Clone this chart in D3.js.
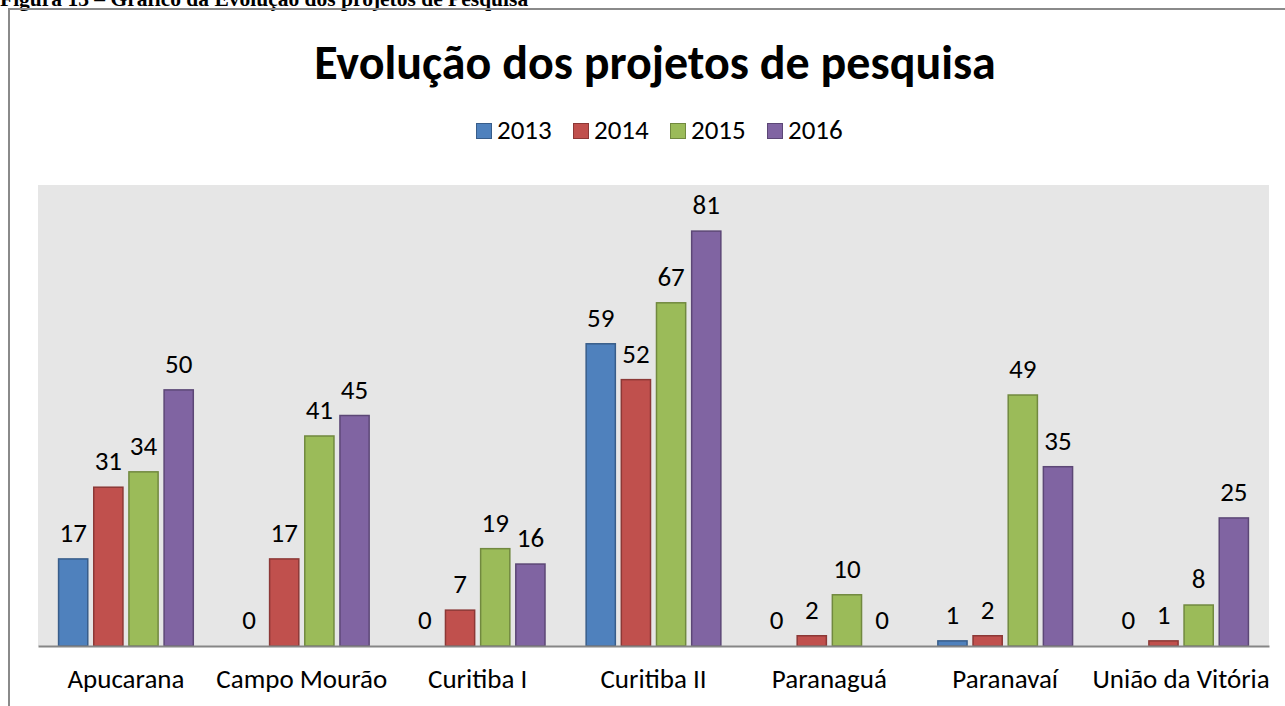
<!DOCTYPE html>
<html>
<head>
<meta charset="utf-8">
<script src="https://cdn.jsdelivr.net/npm/d3@7"></script>
<style>
  body { margin: 0; background: #fff; }
  svg { display: block; }
  text { font-family: Calibri, Carlito, "Open Sans", sans-serif; fill: #000; }
</style>
</head>
<body>
<div id="chart"></div>
<script>
// dados
const campi = ["Apucarana", "Campo Mourão", "Curitiba I", "Curitiba II", "Paranaguá", "Paranavaí", "União da Vitória"];
const anos = ["2013", "2014", "2015", "2016"];
const v2013 = [17, 0, 0, 59, 0, 1, 0];
const v2014 = [31, 17, 7, 52, 2, 2, 1];
const v2015 = [34, 41, 19, 67, 10, 49, 8];
const v2016 = [50, 45, 16, 81, 0, 35, 25];
const fill = ["#4f81bd", "#c0504d", "#9bbb59", "#8064a2"];
const stroke = ["#385d8a", "#8c3836", "#71893f", "#5c4776"];

const series = [v2013, v2014, v2015, v2016];

const width = 1285, height = 706;
const plot = { left: 38, right: 1269, top: 185, bottom: 646 };

const svg = d3.select("#chart").append("svg")
  .attr("width", width)
  .attr("height", height);

// legenda da figura (cortada no topo)
svg.append("text")
  .attr("x", 0).attr("y", 6)
  .style("font-family", "'Liberation Serif', 'Times New Roman', serif")
  .style("font-weight", "bold")
  .style("font-size", "21.5px")
  .text("Figura 13 – Gráfico da Evolução dos projetos de Pesquisa");

// moldura do gráfico
svg.append("path")
  .attr("d", `M9,${height} V9 H${width}`)
  .attr("fill", "none")
  .attr("stroke", "#8a8a8a")
  .attr("stroke-width", 2);

// titulo
svg.append("text")
  .attr("x", 655).attr("y", 79)
  .attr("text-anchor", "middle")
  .style("font-weight", "bold")
  .style("font-size", "48px")
  .text("Evolução dos projetos de pesquisa");

// legenda
const legend = svg.append("g").attr("transform", "translate(476,123)");
const item = legend.selectAll("g")
  .data(anos)
  .join("g")
  .attr("transform", (d, i) => `translate(${i * 97},0)`);
item.append("rect")
  .attr("x", 0.5).attr("y", 0.5)
  .attr("width", 15).attr("height", 15)
  .attr("fill", (d, i) => fill[i])
  .attr("stroke", (d, i) => stroke[i]);
item.append("text")
  .attr("x", 21).attr("y", 16)
  .style("font-size", "27px")
  .text((d) => d);

// area de plotagem
svg.append("rect")
  .attr("x", plot.left).attr("y", plot.top)
  .attr("width", plot.right - plot.left)
  .attr("height", plot.bottom - plot.top)
  .attr("fill", "#e6e6e6");

const x0 = d3.scaleBand()
  .domain(campi)
  .range([plot.left, plot.right])
  .paddingInner(0.2)
  .paddingOuter(0.1);
const x1 = d3.scaleBand()
  .domain(anos)
  .range([0, x0.bandwidth()])
  .paddingInner(0.17)
  .paddingOuter(0.085);
const y = d3.scaleLinear()
  .domain([0, 90])
  .range([plot.bottom, plot.top]);

const rows = campi.map((c, i) => ({ campus: c, values: anos.map((a, j) => ({ ano: a, k: j, v: series[j][i] })) }));

const groups = svg.append("g").selectAll("g")
  .data(rows)
  .join("g")
  .attr("transform", (d) => `translate(${x0(d.campus)},0)`);

groups.selectAll("rect")
  .data((d) => d.values.filter((v) => v.v > 0))
  .join("rect")
  .attr("x", (d) => x1(d.ano))
  .attr("y", (d) => y(d.v))
  .attr("width", x1.bandwidth())
  .attr("height", (d) => y(0) - y(d.v))
  .attr("fill", (d) => fill[d.k])
  .attr("stroke", (d) => stroke[d.k])
  .attr("stroke-width", 1.5);

groups.selectAll("text")
  .data((d) => d.values)
  .join("text")
  .attr("x", (d) => x1(d.ano) + x1.bandwidth() / 2)
  .attr("y", (d) => y(d.v) - 17)
  .attr("text-anchor", "middle")
  .style("font-size", "27px")
  .text((d) => d.v);

// eixo x
const axis = svg.append("g")
  .attr("transform", `translate(0,${plot.bottom})`)
  .call(d3.axisBottom(x0).tickSize(0).tickPadding(23).tickSizeOuter(0));
axis.select(".domain").attr("stroke", "#868686").attr("stroke-width", 2);
axis.selectAll(".tick text")
  .style("font-family", "Calibri, Carlito, 'Open Sans', sans-serif")
  .style("font-size", "27px")
  .attr("fill", "#000");
</script>
</body>
</html>
